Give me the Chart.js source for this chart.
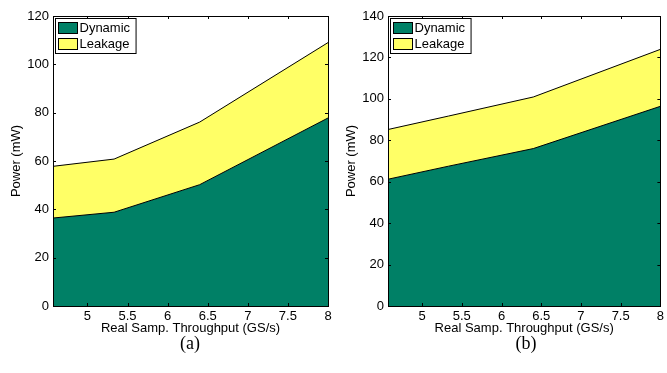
<!DOCTYPE html>
<html>
<head>
<meta charset="utf-8">
<script src="https://cdn.jsdelivr.net/npm/chart.js@4.4.1/dist/chart.umd.min.js"></script>
<style>
  body { margin: 0; background: #fff; }
  #wrap { position: relative; width: 667px; height: 373px; background: #fff; overflow: hidden; }
  canvas { position: absolute; top: 0; }
  .cap { position: absolute; top: 333px; font-family: 'Liberation Serif', serif; font-size: 18px; color: #000; transform: translateX(-50%); }
</style>
</head>
<body>
<div id="wrap">
  <canvas id="chart-a" width="335" height="340" style="left:0"></canvas>
  <canvas id="chart-b" width="332" height="340" style="left:335px"></canvas>
  <div class="cap" style="left:190px">(a)</div>
  <div class="cap" style="left:526px">(b)</div>
</div>
<script>
// Throughput points (GS/s)
const throughput = [4.571, 5.333, 6.4, 8];
const xTicks = [5, 5.5, 6, 6.5, 7, 7.5, 8];

// (a)
const dynamicA = [36.4, 38.8, 50.2, 77.8];
const leakageA = [21.4, 22.0, 25.9, 31.2];
const yTicksA = [0, 20, 40, 60, 80, 100, 120];

// (b)
const dynamicB = [61.2, 67.5, 76.0, 96.4];
const leakageB = [24.0, 24.2, 24.9, 27.5];
const yTicksB = [0, 20, 40, 60, 80, 100, 120, 140];

const seriesNames = ['Dynamic', 'Leakage'];
const seriesColors = ['#008066', '#FFFF66'];

const FONT = "'Liberation Sans', Arial, sans-serif";
Chart.defaults.font.family = FONT;
Chart.defaults.color = '#000';

// frame + inward ticks + boxed legend, matlab style
const matlabAxes = {
    id: 'matlabAxes',
    afterDraw(chart) {
        const ctx = chart.ctx;
        const a = chart.chartArea;
        const xs = chart.scales.x, ys = chart.scales.y;
        const tl = 3;
        ctx.save();
        ctx.strokeStyle = '#000';
        ctx.lineWidth = 1;
        ctx.beginPath();
        xs.ticks.forEach(t => {
            const px = Math.round(xs.getPixelForValue(t.value)) + 0.5;
            ctx.moveTo(px, a.bottom); ctx.lineTo(px, a.bottom - tl);
            ctx.moveTo(px, a.top); ctx.lineTo(px, a.top + tl);
        });
        ys.ticks.forEach(t => {
            const py = Math.round(ys.getPixelForValue(t.value)) + 0.5;
            ctx.moveTo(a.left, py); ctx.lineTo(a.left + tl, py);
            ctx.moveTo(a.right, py); ctx.lineTo(a.right - tl, py);
        });
        ctx.stroke();
        ctx.strokeRect(Math.round(a.left) + 0.5, Math.round(a.top) + 0.5,
                       Math.round(a.right - a.left), Math.round(a.bottom - a.top));

        // legend
        ctx.font = '13px ' + FONT;
        const names = chart.data.datasets.map(d => d.label);
        const tw = Math.max(...names.map(n => ctx.measureText(n).width));
        const bx = Math.round(a.left) + 2.5, by = Math.round(a.top) + 2.5;
        const bw = 26 + tw + 4, bh = 35;
        ctx.fillStyle = '#fff';
        ctx.fillRect(bx, by, bw, bh);
        ctx.strokeRect(bx, by, bw, bh);
        chart.data.datasets.forEach((d, i) => {
            const sy = by + 4 + i * 16;
            ctx.fillStyle = d.backgroundColor;
            ctx.fillRect(bx + 3, sy, 19, 11);
            ctx.strokeRect(bx + 3, sy, 19, 11);
            ctx.fillStyle = '#000';
            ctx.textBaseline = 'middle';
            ctx.fillText(d.label, bx + 24, sy + 6);
        });
        ctx.restore();
    }
};

function makeChart(id, dyn, leak, yTicks, yWidth, padRight) {
    const toPts = arr => arr.map((v, i) => ({ x: throughput[i], y: v }));
    return new Chart(document.getElementById(id), {
        type: 'line',
        data: {
            datasets: [
                { label: seriesNames[0], data: toPts(dyn), backgroundColor: seriesColors[0], borderColor: '#000', borderWidth: 1, fill: 'origin' },
                { label: seriesNames[1], data: toPts(leak), backgroundColor: seriesColors[1], borderColor: '#000', borderWidth: 1, fill: '-1' }
            ]
        },
        options: {
            responsive: false,
            devicePixelRatio: 1,
            animation: false,
            layout: { padding: { top: 16, right: padRight, left: 0, bottom: 0 } },
            elements: { point: { radius: 0 }, line: { tension: 0 } },
            plugins: { legend: { display: false }, tooltip: { enabled: false } },
            scales: {
                x: {
                    type: 'linear',
                    min: throughput[0],
                    max: throughput[throughput.length - 1],
                    afterBuildTicks: s => { s.ticks = xTicks.map(v => ({ value: v })); },
                    afterFit: s => { s.height = 34; },
                    grid: { display: false, drawTicks: false },
                    border: { display: false },
                    ticks: { padding: 3, font: { size: 13 }, maxRotation: 0, autoSkip: false, callback: v => String(v) },
                    title: { display: true, text: 'Real Samp. Throughput (GS/s)', font: { size: 13 }, padding: { top: 0, bottom: 4 } }
                },
                y: {
                    stacked: true,
                    min: yTicks[0],
                    max: yTicks[yTicks.length - 1],
                    afterBuildTicks: s => { s.ticks = yTicks.map(v => ({ value: v })); },
                    afterFit: s => { s.width = yWidth; },
                    grid: { display: false, drawTicks: false },
                    border: { display: false },
                    ticks: { padding: 4, font: { size: 13 } },
                    title: { display: true, text: 'Power (mW)', font: { size: 13 }, padding: { top: 9, bottom: 0 } }
                }
            }
        },
        plugins: [matlabAxes]
    });
}

makeChart('chart-a', dynamicA, leakageA, yTicksA, 53, 7);
makeChart('chart-b', dynamicB, leakageB, yTicksB, 53, 4);
</script>
</body>
</html>
